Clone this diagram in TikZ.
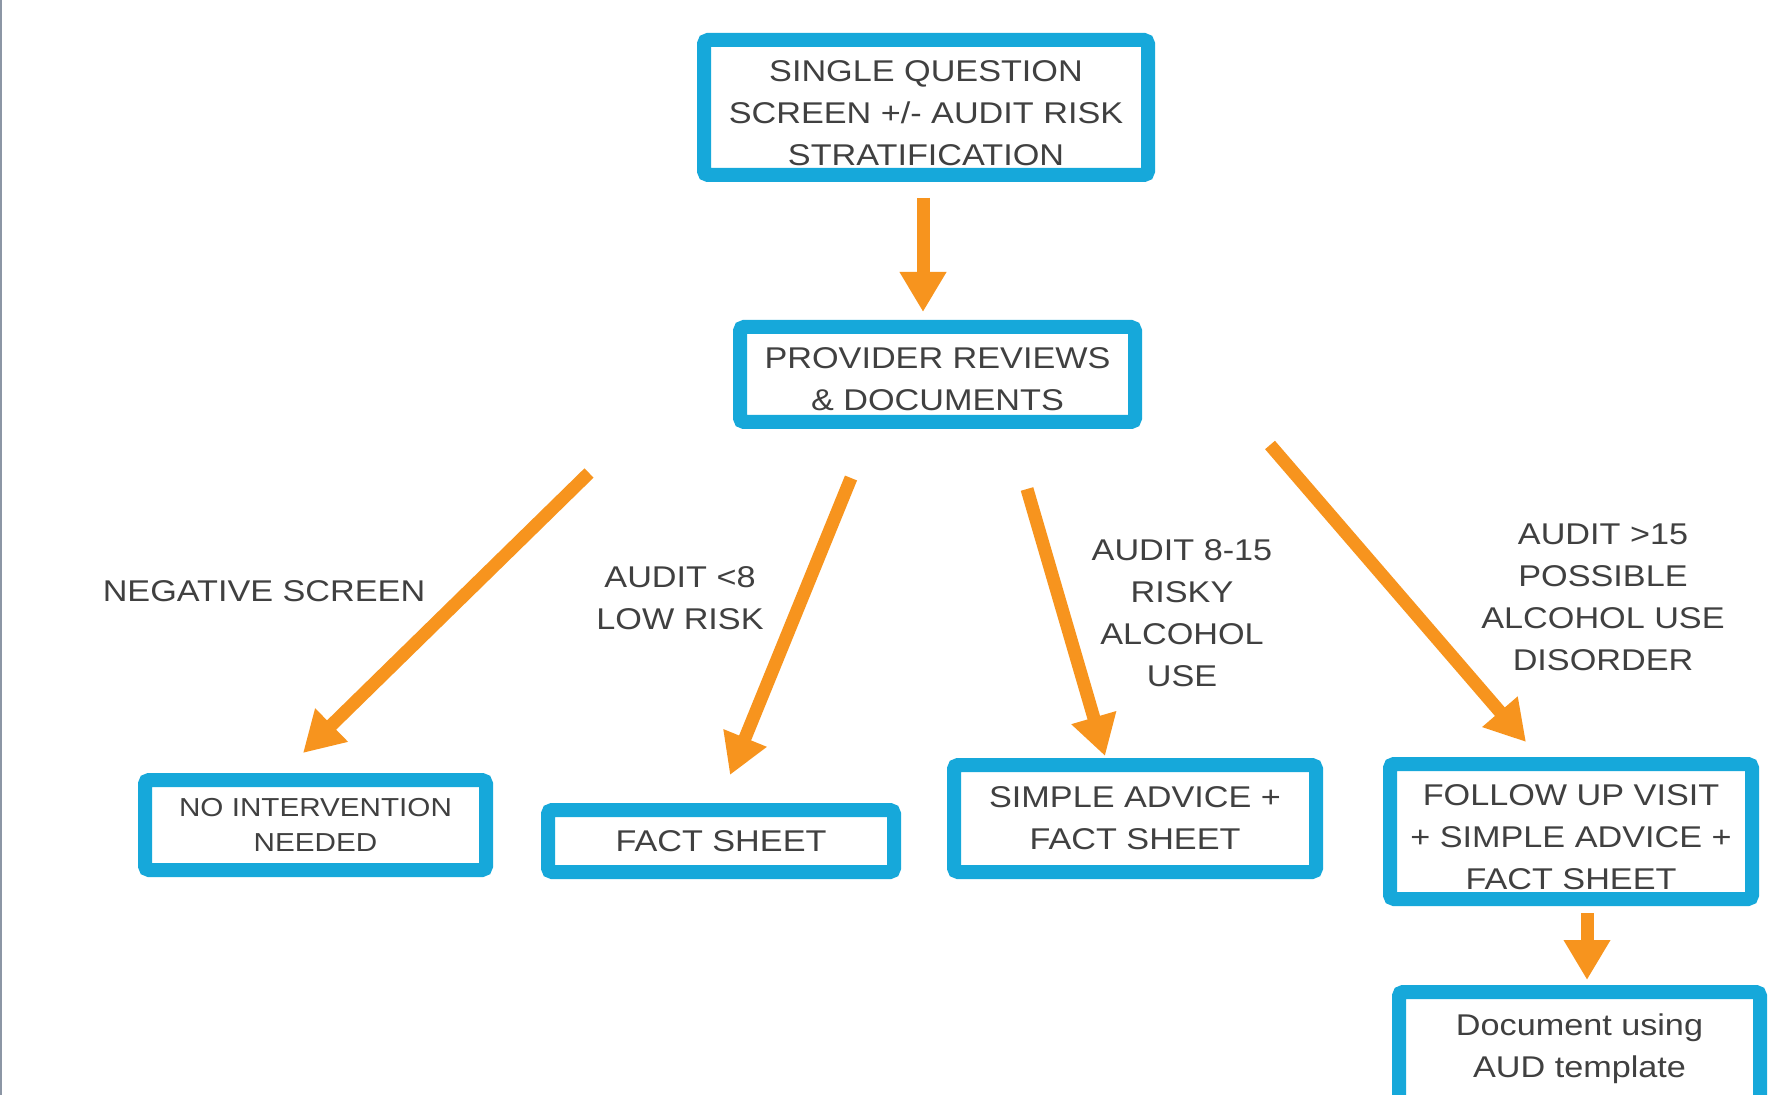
\documentclass[tikz,border=0pt]{standalone}
\usepackage{fontspec}
\setmainfont{Liberation Sans}[FakeStretch=1.14]
\usetikzlibrary{arrows.meta}
\definecolor{boxcyan}{RGB}{22,168,218}
\definecolor{arrorange}{RGB}{247,148,30}
\definecolor{txtgray}{RGB}{64,64,64}
\definecolor{edgegray}{RGB}{140,150,165}
\begin{document}
\begin{tikzpicture}[x=0.5pt,y=-0.5pt,
  flowbox/.style={draw=boxcyan, line width=7pt, fill=white, rounded corners=2pt, inner sep=0pt, align=center, text=txtgray, font=\fontsize{15}{21}\selectfont},
  lbl/.style={align=center, text=txtgray, font=\fontsize{15}{21}\selectfont, inner sep=0pt},
  flowarrow/.style={draw=arrorange, line width=6.5pt, -{Triangle[width=22pt,length=20pt]}}
]
\useasboundingbox (0,0) rectangle (1775,1095);
\clip (0,0) rectangle (1775,1095);
\fill[white] (0,0) rectangle (1775,1095);
\draw[edgegray, line width=1pt] (1,0) -- (1,1095);

% boxes
\node[flowbox, minimum width=222pt, minimum height=67.5pt] (top) at (926,107.5) {};
\node[lbl] (toptxt) at (926,113) {SINGLE QUESTION\\SCREEN +/- AUDIT RISK\\STRATIFICATION};
\node[flowbox, minimum width=197.5pt, minimum height=47.5pt] (prov) at (937.5,374.5) {};
\node[lbl] (provtxt) at (937.5,379.5) {PROVIDER REVIEWS\\\& DOCUMENTS};
\node[flowbox, minimum width=170.5pt, minimum height=45pt, font=\fontsize{13}{17.5}\selectfont] (noint) at (315.5,825) {NO INTERVENTION\\NEEDED};
\node[flowbox, minimum width=173pt, minimum height=31pt] (fact) at (721,841) {FACT SHEET};
\node[flowbox, minimum width=181pt, minimum height=53.5pt] (simple) at (1135,818.5) {SIMPLE ADVICE +\\FACT SHEET};
\node[flowbox, minimum width=181pt, minimum height=67.5pt] (follow) at (1571,831.5) {};
\node[lbl] (followtxt) at (1571,837.5) {FOLLOW UP VISIT\\+ SIMPLE ADVICE +\\FACT SHEET};
\node[flowbox, minimum width=180.5pt, minimum height=56.5pt] (doc) at (1579.5,1048.5) {Document using\\AUD template};

% labels
\node[lbl] (lneg) at (264,591) {NEGATIVE SCREEN};
\node[lbl] (llow) at (680,598) {AUDIT <8\\LOW RISK};
\node[lbl] (lrisky) at (1182,613) {AUDIT 8-15\\RISKY\\ALCOHOL\\USE};
\node[lbl] (laud) at (1603,597) {AUDIT >15\\POSSIBLE\\ALCOHOL USE\\DISORDER};

% arrow end points
\coordinate (a0s) at (923,198);
\coordinate (a0e) at (923,312);
\coordinate (a1s) at (589,473);
\coordinate (a1e) at (303,753);
\coordinate (a2s) at (851,478);
\coordinate (a2e) at (730,775);
\coordinate (a3s) at (1027,489);
\coordinate (a3e) at (1105,756);
\coordinate (a4s) at (1270,445);
\coordinate (a4e) at (1526,742);
\coordinate (a5s) at (1587,913);
\coordinate (a5e) at (1587,980);

\draw[flowarrow] (a0s) -- (a0e);
\draw[flowarrow] (a1s) -- (a1e);
\draw[flowarrow] (a2s) -- (a2e);
\draw[flowarrow] (a3s) -- (a3e);
\draw[flowarrow] (a4s) -- (a4e);
\draw[flowarrow] (a5s) -- (a5e);
\end{tikzpicture}
\end{document}
